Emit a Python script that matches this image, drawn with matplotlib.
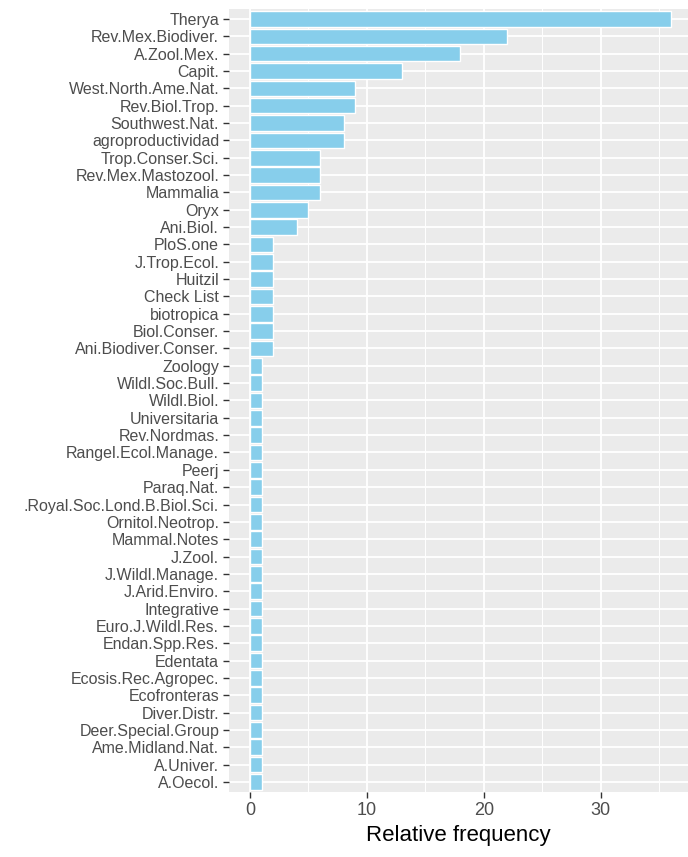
import matplotlib
matplotlib.use("Agg")
import matplotlib.pyplot as plt
from matplotlib.ticker import MultipleLocator

journals = ["Therya", "Rev.Mex.Biodiver.", "A.Zool.Mex.", "Capit.", "West.North.Ame.Nat.",
            "Rev.Biol.Trop.", "Southwest.Nat.", "agroproductividad", "Trop.Conser.Sci.",
            "Rev.Mex.Mastozool.", "Mammalia", "Oryx", "Ani.Biol.", "PloS.one", "J.Trop.Ecol.",
            "Huitzil", "Check List", "biotropica", "Biol.Conser.", "Ani.Biodiver.Conser.",
            "Zoology", "Wildl.Soc.Bull.", "Wildl.Biol.", "Universitaria", "Rev.Nordmas.",
            "Rangel.Ecol.Manage.", "Peerj", "Paraq.Nat.", ".Royal.Soc.Lond.B.Biol.Sci.",
            "Ornitol.Neotrop.", "Mammal.Notes", "J.Zool.", "J.Wildl.Manage.", "J.Arid.Enviro.",
            "Integrative", "Euro.J.Wildl.Res.", "Endan.Spp.Res.", "Edentata",
            "Ecosis.Rec.Agropec.", "Ecofronteras", "Diver.Distr.", "Deer.Special.Group",
            "Ame.Midland.Nat.", "A.Univer.", "A.Oecol."]
freq = [36, 22, 18, 13, 9, 9, 8, 8, 6, 6, 6, 5, 4, 2, 2, 2, 2, 2, 2, 2] + [1] * 25

plt.rcParams["font.family"] = ["Liberation Sans", "DejaVu Sans"]

fig = plt.figure(figsize=(6.88, 8.57), dpi=100)
ax = fig.add_axes([0.3328, 0.0754, 0.6672, 0.9146])
ax.set_facecolor("#EBEBEB")

pos = list(range(len(journals)))
ax.barh(pos, freq, height=0.9, color="#87CEEB", edgecolor="white", linewidth=1.0, zorder=3)

ax.set_yticks(pos)
ax.set_yticklabels(journals)
ax.set_ylim(len(journals) - 0.4, -0.6)
ax.set_xlim(-1.8, 37.47)
ax.xaxis.set_major_locator(MultipleLocator(10))
ax.xaxis.set_minor_locator(MultipleLocator(5))

ax.grid(which="major", color="white", linewidth=1.3, zorder=0)
ax.grid(which="minor", axis="x", color="white", linewidth=0.7, zorder=0)
ax.set_axisbelow(True)
for s in ax.spines.values():
    s.set_visible(False)

ax.tick_params(axis="both", which="major", length=4, width=1, color="#333333",
               labelcolor="#4D4D4D", labelsize=11.5, pad=3)
ax.tick_params(axis="x", labelsize=13)
ax.tick_params(axis="x", which="minor", length=0)
ax.set_xlabel("Relative frequency", fontsize=16, color="black", labelpad=4)

fig.savefig("out.png", dpi=100)
